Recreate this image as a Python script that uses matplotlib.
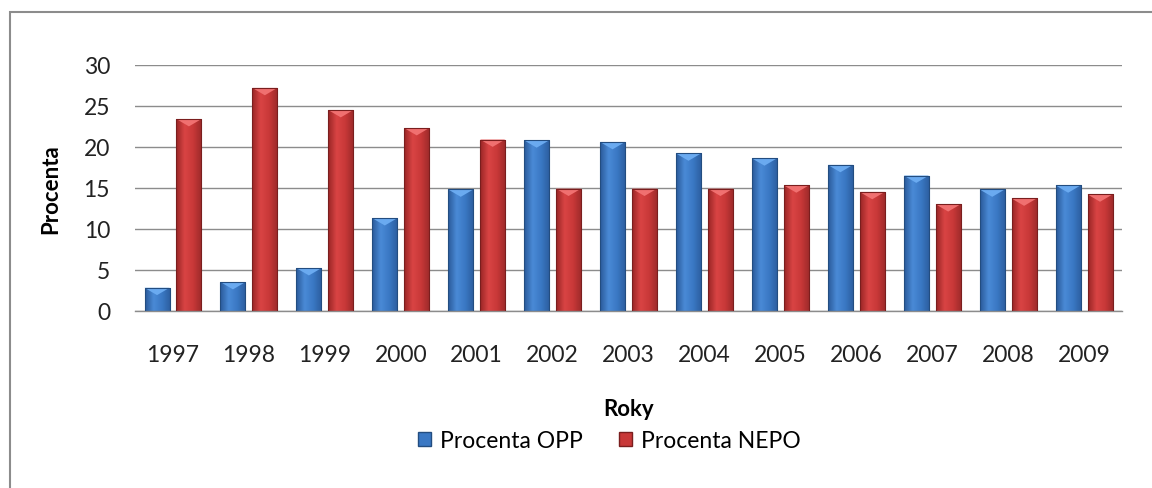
import matplotlib.pyplot as plt
import numpy as np
from matplotlib.patches import Patch, Rectangle
from matplotlib.colors import LinearSegmentedColormap

roky = ['1997', '1998', '1999', '2000', '2001', '2002', '2003',
        '2004', '2005', '2006', '2007', '2008', '2009']
procenta_opp = [2.8, 3.5, 5.2, 11.3, 14.8, 20.8, 20.6, 19.2, 18.6, 17.8, 16.5, 14.8, 15.3]
procenta_nepo = [23.4, 27.2, 24.5, 22.3, 20.9, 14.9, 14.9, 14.9, 15.3, 14.5, 13.0, 13.7, 14.2]

plt.rcParams['font.family'] = ['Lato', 'DejaVu Sans']

fig = plt.figure(figsize=(11.52, 4.89), dpi=100)
ax = fig.add_axes([0.1172, 0.3626, 0.8568, 0.5025])

# okraj kolem grafu (pravy a dolni okraj je mimo obrazek)
fig.patches.append(Rectangle((10 / 1152, -0.1), 1.2, 1 - 13 / 489 + 0.1,
                             transform=fig.transFigure, fill=False,
                             edgecolor='#8c8c8c', linewidth=1.5))

x = np.arange(len(roky))
w = 0.33
off = 0.21

cm_blue = LinearSegmentedColormap.from_list('b', ['#2a5a9a', '#4a8ad6', '#3a78c4', '#2c5e9e'])
cm_red = LinearSegmentedColormap.from_list('r', ['#992626', '#d94444', '#c83838', '#9c2a2a'])

grad = np.linspace(0, 1, 64).reshape(1, -1)

def gradient_bars(xs, vals, cmap, edge, top):
    bars = ax.bar(xs, vals, width=w, color='none', edgecolor=edge, linewidth=0.8, zorder=3)
    for b in bars:
        x0, y0 = b.get_x(), b.get_y()
        bw, bh = b.get_width(), b.get_height()
        im = ax.imshow(grad, cmap=cmap, aspect='auto', extent=[x0, x0 + bw, y0, y0 + bh],
                       zorder=2, interpolation='bicubic')
        im.set_clip_path(b)
        # horni zkoseni
        ax.fill([x0, x0 + bw, x0 + bw * 0.5], [y0 + bh, y0 + bh, y0 + bh - 0.9],
                color=top, zorder=2.5, linewidth=0)
    return bars

gradient_bars(x - off, procenta_opp, cm_blue, '#234d80', '#6aaaf0')
gradient_bars(x + off, procenta_nepo, cm_red, '#7a1e1e', '#f07070')

ax.set_xlim(-0.5, len(roky) - 0.5)
ax.set_ylim(0, 30)
ax.set_yticks(range(0, 31, 5))
ax.set_xticks(x)
ax.set_xticklabels(roky)
ax.tick_params(axis='both', length=0, labelsize=16.5, colors='#222222')
ax.tick_params(axis='x', pad=24)
ax.tick_params(axis='y', pad=18)
ax.yaxis.grid(True, color='#8c8c8c', linewidth=1.0, zorder=0)
ax.set_axisbelow(True)
for s in ['top', 'right', 'left']:
    ax.spines[s].set_visible(False)
ax.spines['bottom'].set_color('#8c8c8c')
ax.spines['bottom'].set_linewidth(1.0)

ax.set_ylabel('Procenta', fontsize=16, fontweight='bold', labelpad=16)
ax.set_xlabel('Roky', fontsize=16, fontweight='bold', labelpad=24)

handles = [Patch(facecolor='#3a78c4', edgecolor='#234d80', label='Procenta OPP'),
           Patch(facecolor='#c83838', edgecolor='#7a1e1e', label='Procenta NEPO')]
fig.legend(handles=handles, loc='center', bbox_to_anchor=(0.529, 1 - 442 / 489), ncol=2,
           frameon=False, fontsize=16.5, handlelength=0.55, handleheight=0.55,
           handletextpad=0.4, columnspacing=1.6)

fig.savefig('out.png', dpi=100)
